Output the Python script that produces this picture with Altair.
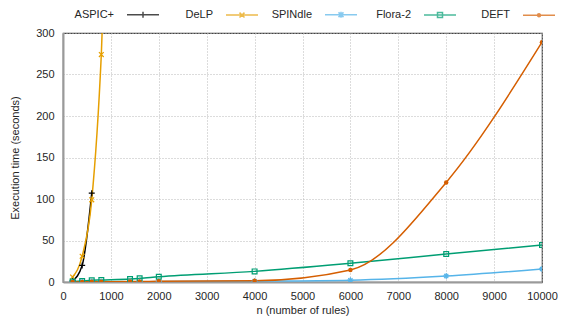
import altair as alt
import pandas as pd

series = ["ASPIC+", "DeLP", "SPINdle", "Flora-2", "DEFT"]
colors = ["#000000", "#E69F00", "#56B4E9", "#009E73", "#D55E00"]

aspic_n = [200, 400, 600]
aspic_t = [1.5, 20, 107]
delp_n = [200, 400, 600, 800, 1000]
delp_t = [6, 31, 99, 274, 600]
n_all = [200, 400, 600, 800, 1400, 1600, 2000, 4000, 6000, 8000, 10000]
spindle_t = [0.1, 0.15, 0.2, 0.25, 0.35, 0.4, 0.5, 1.0, 2.2, 7.2, 15.7]
flora_t = [0.5, 1.2, 2.0, 2.4, 3.6, 4.4, 6.4, 12.8, 22.5, 33.7, 44.6]
deft_t = [0.1, 0.15, 0.2, 0.3, 0.5, 0.6, 0.9, 1.5, 14.5, 120, 289]

x_ticks = list(range(0, 10001, 1000))
y_ticks = list(range(0, 301, 50))

rows = []
for s, ns, ts in [("ASPIC+", aspic_n, aspic_t), ("DeLP", delp_n, delp_t),
                  ("SPINdle", n_all, spindle_t), ("Flora-2", n_all, flora_t),
                  ("DEFT", n_all, deft_t)]:
    for n, t in zip(ns, ts):
        rows.append({"series": s, "n": n, "t": t})
df = pd.DataFrame(rows)

# plot markers (custom stroke paths)
marker_paths = [
    "M-1,0H1M0,-1V1",
    "M-0.8,-0.8L0.8,0.8M-0.8,0.8L0.8,-0.8",
    "M-1,0H1M0,-1V1M-0.7,-0.7L0.7,0.7M-0.7,0.7L0.7,-0.7",
    "M-0.8,-0.8H0.8V0.8H-0.8Z",
    "circle",
]
marker_sizes = [36, 36, 36, 36, 20]
marker_filled = [False, False, False, False, True]

# legend symbols: line segment + marker (gnuplot-style key)
anchor = "M-1.375,0"
seg = "M14.625,0H22.625"
legend_paths = [
    anchor + seg + "M18.625,-0.75V0.75",
    anchor + seg + "M18,-0.6L19.25,0.6M18,0.6L19.25,-0.6",
    anchor + seg + "M18.625,-0.75V0.75M18,-0.6L19.25,0.6M18,0.6L19.25,-0.6",
    anchor + seg + "M18,-0.625H19.25V0.625H18Z",
    anchor + seg + "M18.25,0A0.375,0.375 0 1,0 19,0A0.375,0.375 0 1,0 18.25,0",
]

font = "Liberation Sans"
tcol = "#262626"

X = alt.X("n:Q", scale=alt.Scale(domain=[0, 10000], nice=False, zero=False),
          axis=alt.Axis(values=x_ticks, title="n (number of rules)", labelPadding=8,
                        titlePadding=3, labelFlush=False, labelOverlap=False, format="d"))
Y = alt.Y("t:Q", scale=alt.Scale(domain=[0, 300], nice=False),
          axis=alt.Axis(values=y_ticks, title="Execution time (seconds)", labelPadding=9,
                        titlePadding=15, labelOverlap=False, format="d"))

color_scale = alt.Scale(domain=series, range=colors)

leg_kw = dict(
    title=None, orient="top", offset=12, direction="horizontal",
    columns=5, columnPadding=-7, labelAlign="right", labelOffset=40,
    labelFont=font, labelFontSize=11, labelColor=tcol, symbolSize=64,
    symbolStrokeWidth=1.5, padding=0,
)

base = alt.Chart(df)

lines = base.mark_line(interpolate="monotone", clip=True, strokeWidth=1.5).encode(
    x=X, y=Y, color=alt.Color("series:N", scale=color_scale, legend=alt.Legend(**leg_kw))
)

pts = []
for s, c, p, sz, fl in zip(series, colors, marker_paths, marker_sizes, marker_filled):
    pts.append(
        base.transform_filter(alt.datum.series == s)
        .mark_point(shape=p, size=sz, filled=fl, color=c, strokeWidth=1.2, opacity=1, clip=True)
        .encode(x=X, y=Y)
    )

# legend-only layer: no marks drawn (empty after filter), entries come from the scale domain
leg = base.transform_filter("datum.n < 0").mark_point(filled=False, strokeWidth=1.5).encode(
    x=X, y=Y,
    color=alt.Color("series:N", scale=color_scale, legend=alt.Legend(**leg_kw)),
    shape=alt.Shape("series:N", scale=alt.Scale(domain=series, range=legend_paths),
                    legend=alt.Legend(**leg_kw)),
)

chart = (
    alt.layer(lines, *pts, leg)
    .properties(width=479, height=249, autosize=alt.AutoSizeParams(type="none"),
                padding={"left": 55, "top": 25, "right": 16, "bottom": 34})
    .configure_view(stroke="#444444", strokeWidth=1.2)
    .configure_axis(
        labelFont=font, labelFontSize=11, labelColor=tcol,
        titleFont=font, titleFontSize=11, titleFontWeight="normal", titleColor=tcol,
        grid=True, gridColor="#b8b8b8", gridDash=[1, 2], gridWidth=1,
        ticks=False, domainColor="#9a9a9a", domainWidth=2,
    )
)

chart.save("out.html", embed_options={"renderer": "svg", "actions": False})
